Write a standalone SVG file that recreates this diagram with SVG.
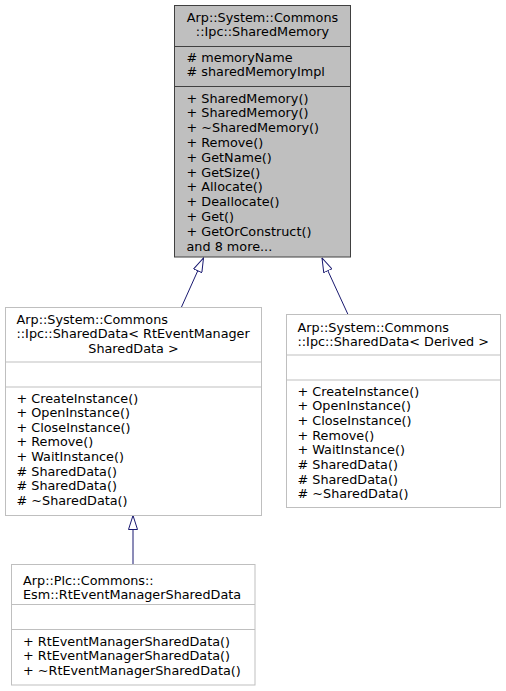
<svg xmlns="http://www.w3.org/2000/svg" width="506" height="691" viewBox="0 0 506 691">
<defs>
<style>
text{font-family:"DejaVu Sans","Liberation Sans",sans-serif;font-size:12.8px;fill:#000}
.c{text-anchor:middle}
.box{fill:#fff;stroke:#bfbfbf;stroke-width:1}
.boxm{fill:#bfbfbf;stroke:#404040;stroke-width:1}
.sep{stroke:#bfbfbf;stroke-width:1}
.sepm{stroke:#404040;stroke-width:1}
.edge{fill:none;stroke:#191970;stroke-width:1}
</style>
<marker id="inh" markerUnits="userSpaceOnUse" viewBox="0 0 15 10" refX="14.5" refY="5" markerWidth="15" markerHeight="10" orient="auto">
<path d="M0.5,0.5 L14.5,5 L0.5,9.5 Z" fill="#fff" stroke="#191970" stroke-width="1"/>
</marker>
</defs>
<rect width="506" height="691" fill="#fff"/>
<g id="edges">
<path class="edge" d="M181.5,307 L203.5,258" marker-end="url(#inh)"/>
<path class="edge" d="M348,314.5 L322,258" marker-end="url(#inh)"/>
<path class="edge" d="M133,564 L133,515.5" marker-end="url(#inh)"/>
</g>
<g id="SharedMemory">
<rect class="boxm" x="174.5" y="5.5" width="176" height="251.5"/>
<line class="sepm" x1="174.5" y1="46.5" x2="350.5" y2="46.5"/>
<line class="sepm" x1="174.5" y1="86.5" x2="350.5" y2="86.5"/>
<text class="c" x="262.5" y="21.5">Arp::System::Commons</text>
<text class="c" x="262.5" y="36">::Ipc::SharedMemory</text>
<text x="186.5" y="61.5"># memoryName</text>
<text x="186.5" y="76"># sharedMemoryImpl</text>
<text x="186.5" y="102.5">+ SharedMemory()</text>
<text x="186.5" y="117.3">+ SharedMemory()</text>
<text x="186.5" y="132.1">+ ~SharedMemory()</text>
<text x="186.5" y="146.9">+ Remove()</text>
<text x="186.5" y="161.7">+ GetName()</text>
<text x="186.5" y="176.5">+ GetSize()</text>
<text x="186.5" y="191.3">+ Allocate()</text>
<text x="186.5" y="206.1">+ Deallocate()</text>
<text x="186.5" y="220.9">+ Get()</text>
<text x="186.5" y="235.7">+ GetOrConstruct()</text>
<text x="186.5" y="250.5">and 8 more...</text>
</g>
<g id="SharedDataRt">
<rect class="box" x="5.5" y="307.5" width="256" height="208"/>
<line class="sep" x1="5.5" y1="362" x2="261.5" y2="362"/>
<line class="sep" x1="5.5" y1="387" x2="261.5" y2="387"/>
<text x="16.5" y="323.5">Arp::System::Commons</text>
<text x="16.5" y="338">::Ipc::SharedData&lt; RtEventManager</text>
<text class="c" x="133.5" y="352.5">SharedData &gt;</text>
<text x="16.5" y="402.5">+ CreateInstance()</text>
<text x="16.5" y="417.1">+ OpenInstance()</text>
<text x="16.5" y="431.7">+ CloseInstance()</text>
<text x="16.5" y="446.3">+ Remove()</text>
<text x="16.5" y="460.9">+ WaitInstance()</text>
<text x="16.5" y="475.5"># SharedData()</text>
<text x="16.5" y="490.1"># SharedData()</text>
<text x="16.5" y="504.7"># ~SharedData()</text>
</g>
<g id="SharedDataDerived">
<rect class="box" x="286.5" y="314.5" width="214" height="193"/>
<line class="sep" x1="286.5" y1="355" x2="500.5" y2="355"/>
<line class="sep" x1="286.5" y1="380" x2="500.5" y2="380"/>
<text x="297.5" y="331.5">Arp::System::Commons</text>
<text x="297.5" y="345.5">::Ipc::SharedData&lt; Derived &gt;</text>
<text x="297.5" y="395.5">+ CreateInstance()</text>
<text x="297.5" y="410.2">+ OpenInstance()</text>
<text x="297.5" y="424.9">+ CloseInstance()</text>
<text x="297.5" y="439.6">+ Remove()</text>
<text x="297.5" y="454.3">+ WaitInstance()</text>
<text x="297.5" y="469"># SharedData()</text>
<text x="297.5" y="483.7"># SharedData()</text>
<text x="297.5" y="498.4"># ~SharedData()</text>
</g>
<g id="RtEventManagerSharedData">
<rect class="box" x="11.5" y="564.5" width="243.5" height="120.5"/>
<line class="sep" x1="11.5" y1="604.5" x2="255" y2="604.5"/>
<line class="sep" x1="11.5" y1="629.5" x2="255" y2="629.5"/>
<text x="23" y="584.5">Arp::Plc::Commons::</text>
<text x="23" y="599">Esm::RtEventManagerSharedData</text>
<text x="23" y="645.5">+ RtEventManagerSharedData()</text>
<text x="23" y="660">+ RtEventManagerSharedData()</text>
<text x="23" y="674.5">+ ~RtEventManagerSharedData()</text>
</g>
</svg>
